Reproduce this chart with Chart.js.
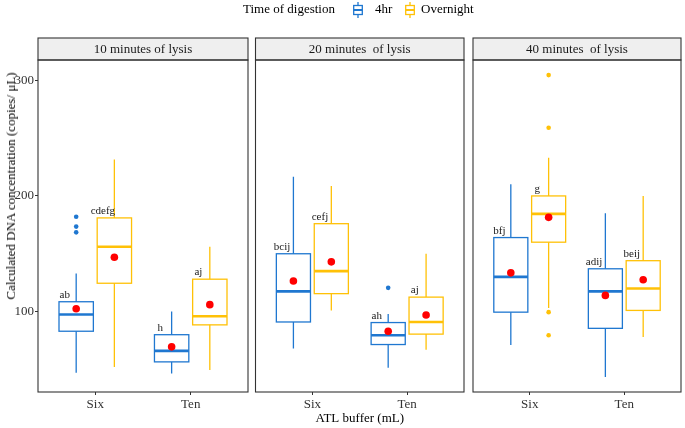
<!DOCTYPE html>
<html>
<head>
<meta charset="utf-8">
<script src="https://cdn.jsdelivr.net/npm/chart.js@4.4.1/dist/chart.umd.min.js"></script>
<style>
    body { margin: 0; background: #fff; }
    #wrap { position: relative; width: 685px; height: 428px; overflow: hidden; font-family: 'Liberation Serif', serif; }
    #wrap canvas { position: absolute; left: 0; top: 0; }
    .lg { position: absolute; top: 1px; font-size: 13px; line-height: 16px; color: #000; white-space: nowrap; }
    .glyph { position: absolute; top: 2px; }
    #ytitle { position: absolute; left: 11px; top: 186px; transform: translate(-50%, -50%) rotate(-90deg); font-size: 13px; white-space: nowrap; color: #000; }
</style>
</head>
<body>
<div id="wrap">
    <canvas id="c0" width="685" height="428"></canvas>
    <canvas id="c1" width="685" height="428"></canvas>
    <canvas id="c2" width="685" height="428"></canvas>
    <span class="lg" style="left:243px">Time of digestion</span>
    <svg class="glyph" style="left:353px" width="10" height="16"><g fill="none" stroke="#1f77d0" stroke-width="1.3"><line x1="5" y1="0" x2="5" y2="3.5"/><rect x="0.7" y="3.5" width="8.6" height="9"/><line x1="0.7" y1="8" x2="9.3" y2="8" stroke-width="2"/><line x1="5" y1="12.5" x2="5" y2="16"/></g></svg>
    <span class="lg" style="left:375px">4hr</span>
    <svg class="glyph" style="left:405px" width="10" height="16"><g fill="none" stroke="#ffc107" stroke-width="1.3"><line x1="5" y1="0" x2="5" y2="3.5"/><rect x="0.7" y="3.5" width="8.6" height="9"/><line x1="0.7" y1="8" x2="9.3" y2="8" stroke-width="2"/><line x1="5" y1="12.5" x2="5" y2="16"/></g></svg>
    <span class="lg" style="left:421px">Overnight</span>
    <div id="ytitle">Calculated DNA concentration (copies/ μL)</div>
</div>
<script>
// Faceted boxplots: DNA concentration by ATL buffer, lysis time and digestion time

const facets = ['10 minutes of lysis', '20 minutes  of lysis', '40 minutes  of lysis'];
const buffers = ['Six', 'Ten'];
const digestion = ['4hr', 'Overnight'];

// one row per facet, each row is [Six, Ten]
const whiskerLo4hr = [[47, 46.5], [68, 51.5], [71, 43.5]];
const q1_4hr = [[83, 56.5], [91, 71.5], [99.5, 85.5]];
const median4hr = [[97.5, 66], [117.5, 79.5], [130, 117.5]];
const q3_4hr = [[108.5, 80], [150, 90.5], [164, 137]];
const whiskerHi4hr = [[133, 100], [216.5, 98], [210, 185]];
const mean4hr = [[102.5, 69.5], [126.5, 83], [133.5, 114]];
const outliers4hr = [[[168.5, 173.5, 182], []], [[], [120.5]], [[], []]];
const letters4hr = [['ab', 'h'], ['bcij', 'ah'], ['bfj', 'adij']];

const whiskerLoOvernight = [[52, 49.5], [101, 67], [103, 78]];
const q1Overnight = [[124.5, 88.5], [115.5, 80.5], [160, 101]];
const medianOvernight = [[156, 96], [135, 91], [184.5, 120]];
const q3Overnight = [[181, 128], [176, 112.5], [200, 144]];
const whiskerHiOvernight = [[231.5, 156], [208.5, 150], [233, 200]];
const meanOvernight = [[147, 106], [143, 97], [181.5, 127.5]];
const outliersOvernight = [[[], []], [[], []], [[79.5, 99.5, 259, 304.5], []]];
const lettersOvernight = [['cdefg', 'aj'], ['cefj', 'aj'], ['g', 'beij']];

const yTicks = [100, 200, 300];

const FONT = 'Liberation Serif';
const colors = ['#1f77d0', '#ffc107'];
const dodge = [-0.2, 0.2];
const halfBox = 0.18;
const labelNudge = -0.12;

const groups = [
    { lo: whiskerLo4hr, q1: q1_4hr, med: median4hr, q3: q3_4hr, hi: whiskerHi4hr, mean: mean4hr, out: outliers4hr, txt: letters4hr },
    { lo: whiskerLoOvernight, q1: q1Overnight, med: medianOvernight, q3: q3Overnight, hi: whiskerHiOvernight, mean: meanOvernight, out: outliersOvernight, txt: lettersOvernight },
];

// boxes, whiskers, medians, letters, strip and panel border
const boxPlugin = {
    id: 'boxes',
    beforeDatasetsDraw(chart, args, opts) {
        const { ctx, scales: { x, y } } = chart;
        const f = opts.facet;
        ctx.save();
        groups.forEach((g, gi) => {
            ctx.strokeStyle = colors[gi];
            buffers.forEach((b, bi) => {
                const c = bi + 1 + dodge[gi];
                const xl = x.getPixelForValue(c - halfBox);
                const xr = x.getPixelForValue(c + halfBox);
                const xc = x.getPixelForValue(c);
                const yq1 = y.getPixelForValue(g.q1[f][bi]);
                const yq3 = y.getPixelForValue(g.q3[f][bi]);
                ctx.lineWidth = 1.3;
                ctx.beginPath();
                ctx.moveTo(xc, y.getPixelForValue(g.hi[f][bi]));
                ctx.lineTo(xc, yq3);
                ctx.moveTo(xc, yq1);
                ctx.lineTo(xc, y.getPixelForValue(g.lo[f][bi]));
                ctx.stroke();
                ctx.strokeRect(xl, yq3, xr - xl, yq1 - yq3);
                ctx.lineWidth = 2.6;
                const ym = y.getPixelForValue(g.med[f][bi]);
                ctx.beginPath();
                ctx.moveTo(xl, ym);
                ctx.lineTo(xr, ym);
                ctx.stroke();
            });
        });
        ctx.restore();
    },
    afterDraw(chart, args, opts) {
        const { ctx, chartArea: a, scales: { x, y } } = chart;
        const f = opts.facet;
        ctx.save();
        // letters above the boxes
        ctx.fillStyle = '#1a1a1a';
        ctx.font = '11px "' + FONT + '"';
        ctx.textAlign = 'center';
        ctx.textBaseline = 'alphabetic';
        groups.forEach((g, gi) => {
            buffers.forEach((b, bi) => {
                const c = bi + 1 + dodge[gi] + labelNudge;
                ctx.fillText(g.txt[f][bi], x.getPixelForValue(c), y.getPixelForValue(g.q3[f][bi]) - 4);
            });
        });
        // strip
        const stripTop = a.top - 22;
        ctx.fillStyle = '#efefef';
        ctx.fillRect(a.left, stripTop, a.right - a.left, 22);
        ctx.strokeStyle = '#333';
        ctx.lineWidth = 1.1;
        ctx.strokeRect(a.left, stripTop, a.right - a.left, 22);
        ctx.fillStyle = '#1a1a1a';
        ctx.font = '13px "' + FONT + '"';
        ctx.textBaseline = 'middle';
        ctx.fillText(facets[f], (a.left + a.right) / 2, stripTop + 11.5);
        // panel border
        ctx.strokeRect(a.left, a.top, a.right - a.left, a.bottom - a.top);
        ctx.restore();
    },
};

const paddings = [
    { left: 0, right: 437, top: 60, bottom: 0 },
    { left: 255.5, right: 221, top: 60, bottom: 0 },
    { left: 473, right: 3, top: 60, bottom: 0 },
];

function makeChart(f) {
    const means = [];
    groups.forEach((g, gi) => {
        buffers.forEach((b, bi) => means.push({ x: bi + 1 + dodge[gi], y: g.mean[f][bi] }));
    });
    const datasets = [{
        label: 'Mean',
        data: means,
        pointRadius: 3.8,
        backgroundColor: '#ff0000',
        borderWidth: 0,
    }];
    groups.forEach((g, gi) => {
        const pts = [];
        buffers.forEach((b, bi) => {
            g.out[f][bi].forEach(v => pts.push({ x: bi + 1 + dodge[gi], y: v }));
        });
        datasets.push({
            label: digestion[gi],
            data: pts,
            pointRadius: 2.3,
            backgroundColor: colors[gi],
            borderWidth: 0,
        });
    });

    return new Chart(document.getElementById('c' + f), {
        type: 'scatter',
        data: { datasets },
        plugins: [boxPlugin],
        options: {
            responsive: false,
            animation: false,
            layout: { padding: paddings[f] },
            plugins: {
                legend: { display: false },
                tooltip: { enabled: false },
                boxes: { facet: f },
            },
            scales: {
                x: {
                    type: 'linear',
                    min: 0.4,
                    max: 2.6,
                    afterBuildTicks: s => { s.ticks = buffers.map((b, i) => ({ value: i + 1 })); },
                    afterFit: s => { s.height = 36; },
                    ticks: {
                        callback: v => buffers[v - 1],
                        color: '#333',
                        padding: 2,
                        maxRotation: 0,
                        autoSkip: false,
                        font: { family: FONT, size: 13 },
                    },
                    grid: { drawOnChartArea: false, drawTicks: true, tickLength: 3, color: '#333' },
                    border: { display: false },
                    title: {
                        display: f === 1,
                        text: 'ATL buffer (mL)',
                        color: '#000',
                        padding: { top: 0, bottom: 2 },
                        font: { family: FONT, size: 13 },
                    },
                },
                y: {
                    type: 'linear',
                    display: f === 0,
                    min: 30.45,
                    max: 317.55,
                    afterBuildTicks: s => { s.ticks = yTicks.map(v => ({ value: v })); },
                    afterFit: s => { s.width = f === 0 ? 38 : 0; },
                    ticks: {
                        color: '#333',
                        padding: 1,
                        font: { family: FONT, size: 13 },
                    },
                    grid: { drawOnChartArea: false, drawTicks: true, tickLength: 3, color: '#333' },
                    border: { display: false },
                },
            },
        },
    });
}

facets.forEach((name, f) => makeChart(f));
</script>
</body>
</html>
